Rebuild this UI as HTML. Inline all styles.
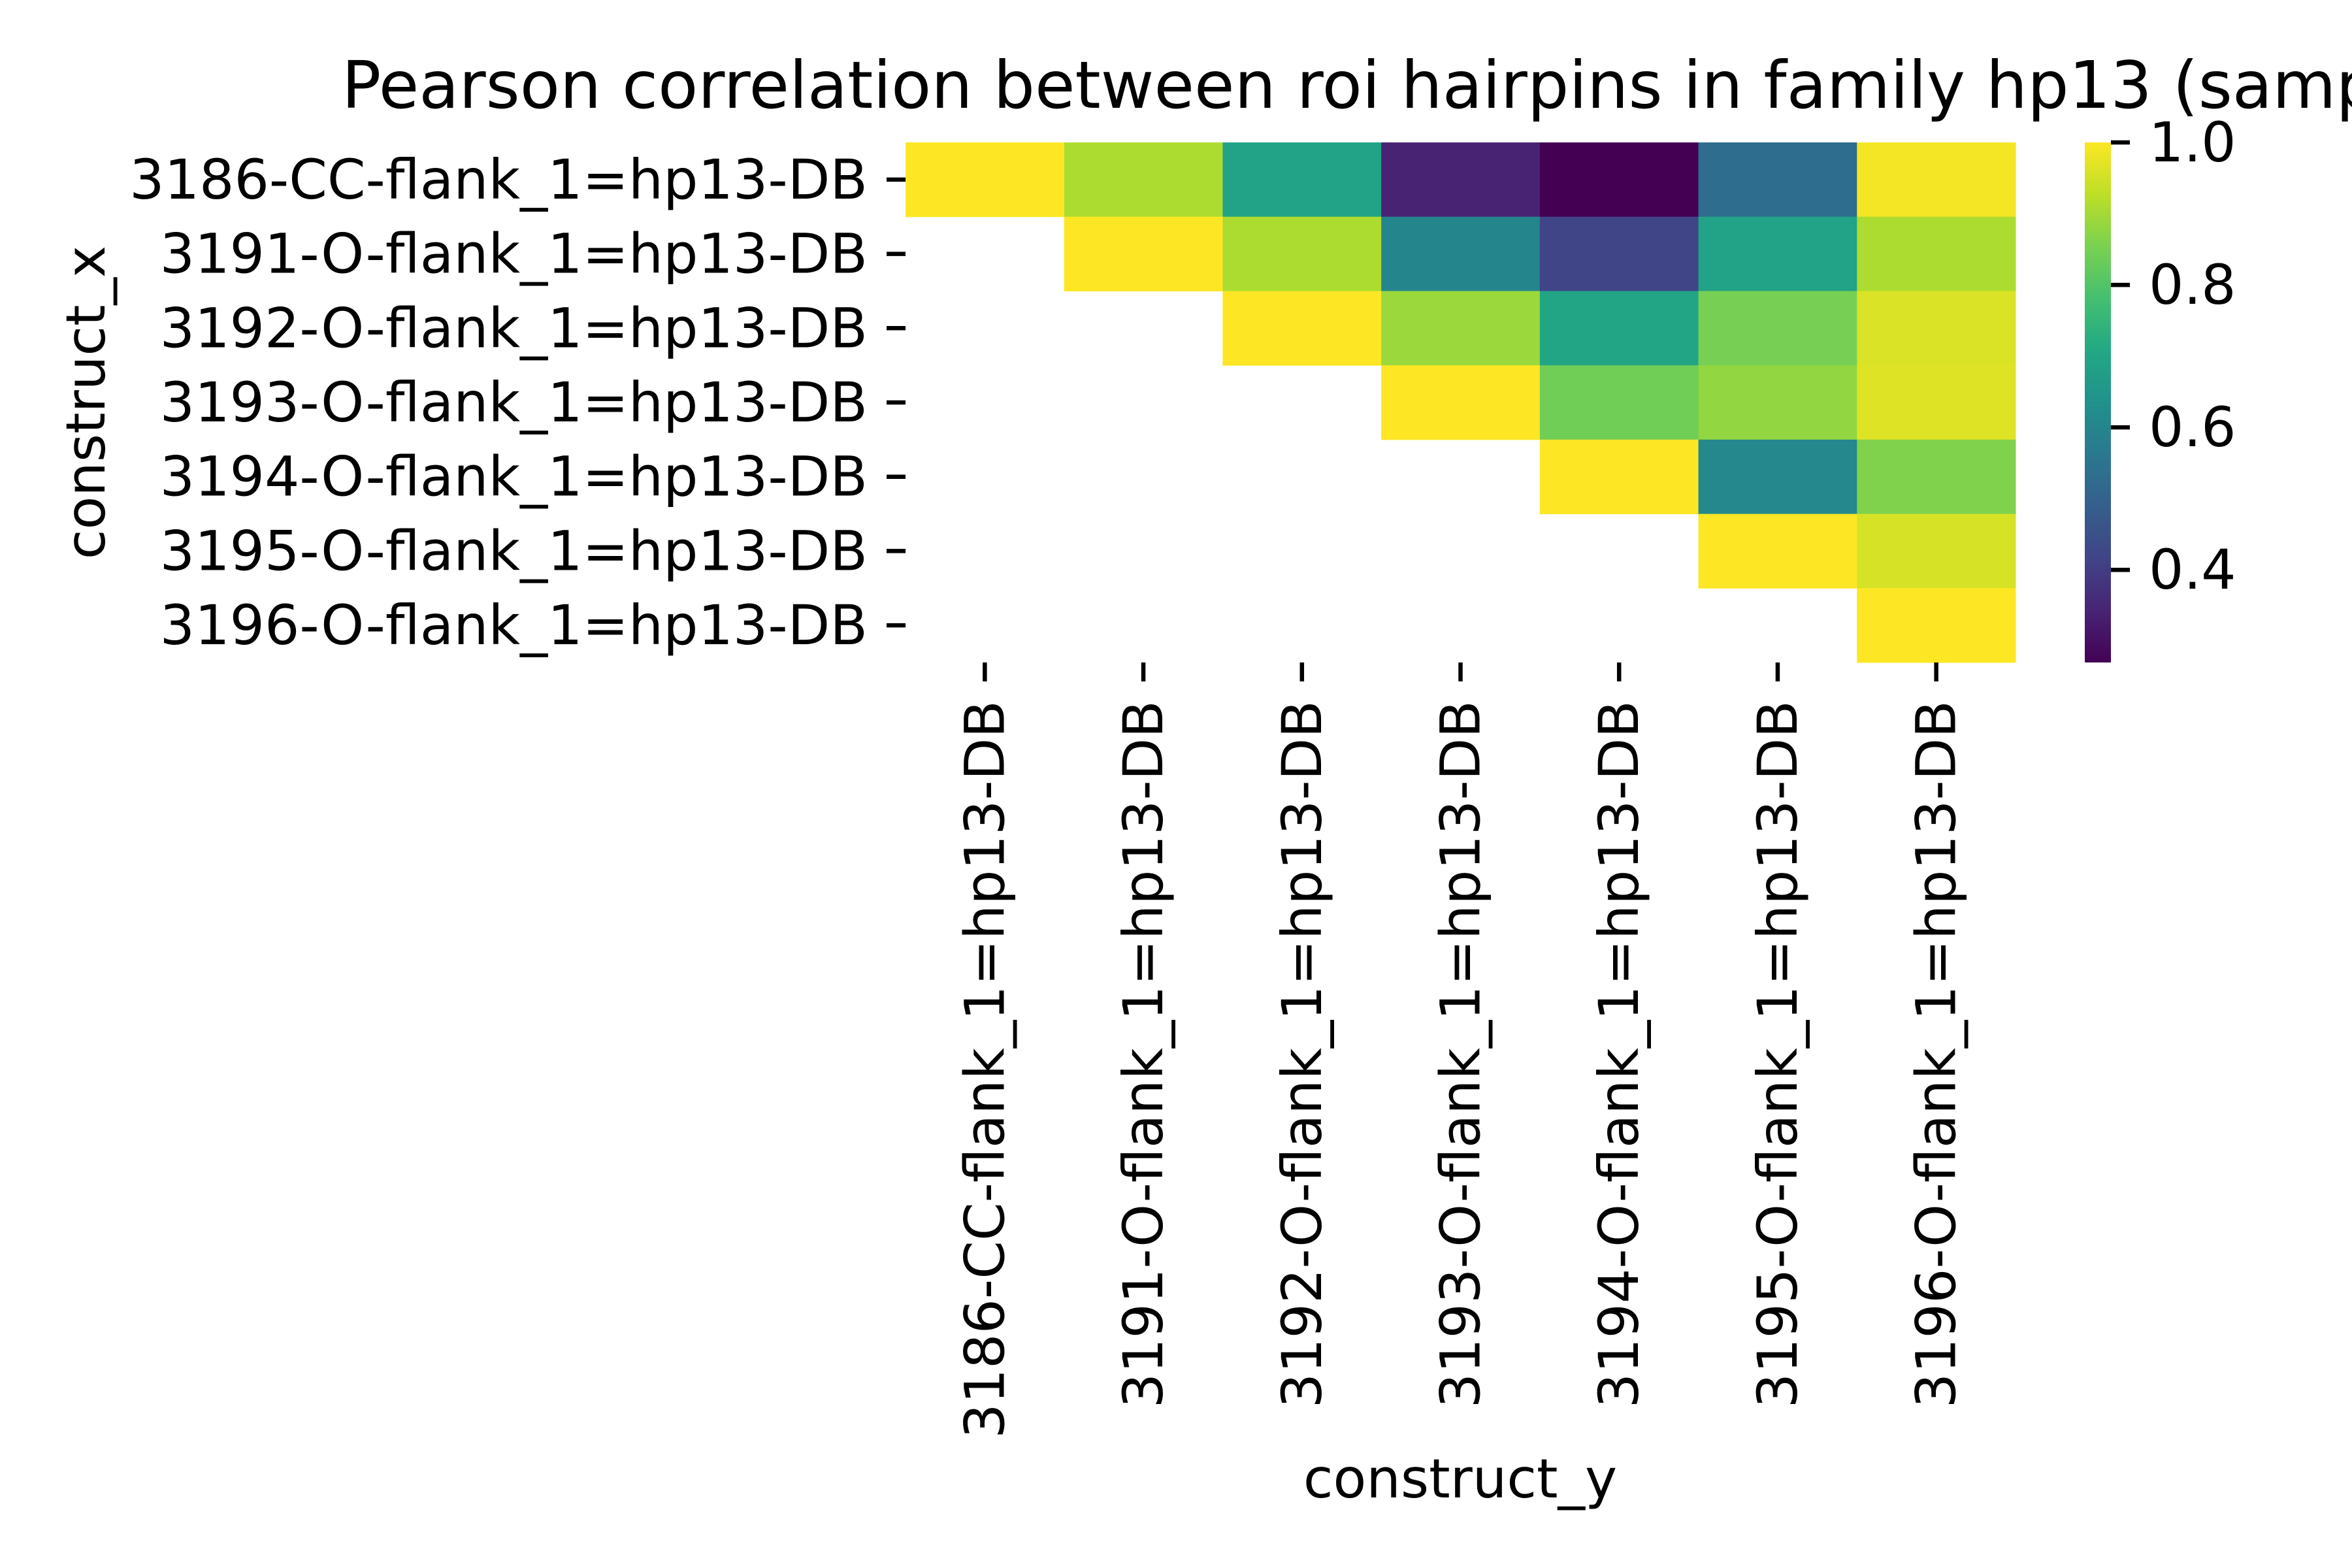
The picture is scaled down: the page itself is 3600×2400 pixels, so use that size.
<!DOCTYPE html>
<html><head><meta charset="utf-8"><style>
html,body{margin:0;padding:0;background:#fff;}
svg{display:block;font-family:"DejaVu Sans","Liberation Sans",sans-serif;}
</style></head><body>
<svg id="chart" width="3600" height="2400" viewBox="0 0 3600 2400" xmlns="http://www.w3.org/2000/svg">
<defs>
<linearGradient id="cbgrad" x1="0" y1="1" x2="0" y2="0">
<stop offset="0" stop-color="#440154"/><stop offset="0.1" stop-color="#482475"/><stop offset="0.2" stop-color="#414487"/><stop offset="0.3" stop-color="#355f8d"/><stop offset="0.4" stop-color="#2a788e"/><stop offset="0.5" stop-color="#21918c"/><stop offset="0.6" stop-color="#22a884"/><stop offset="0.7" stop-color="#44bf70"/><stop offset="0.8" stop-color="#7ad151"/><stop offset="0.9" stop-color="#bddf26"/><stop offset="1" stop-color="#fde725"/>
</linearGradient>
</defs>
<text x="523" y="165" font-size="100">Pearson correlation between roi hairpins in family hp13 (sample)</text>
<g id="cells"></g>
<g id="axes"></g>
<rect x="3191" y="218" width="40" height="796" fill="url(#cbgrad)"/>
<g id="cbticks"></g>
<text x="2235" y="2292" font-size="83" text-anchor="middle">construct_y</text>
<text x="0" y="0" font-size="83" text-anchor="middle" transform="translate(160,616) rotate(-90)">construct_x</text>
</svg>
<script>
const labels = ["3186-CC-flank_1=hp13-DB","3191-O-flank_1=hp13-DB","3192-O-flank_1=hp13-DB","3193-O-flank_1=hp13-DB","3194-O-flank_1=hp13-DB","3195-O-flank_1=hp13-DB","3196-O-flank_1=hp13-DB"];
const row0 = [1.00, 0.91, 0.69, 0.34, 0.27, 0.53, 0.99];
const row1 = [null, 1.00, 0.91, 0.60, 0.42, 0.69, 0.91];
const row2 = [null, null, 1.00, 0.89, 0.70, 0.85, 0.96];
const row3 = [null, null, null, 1.00, 0.84, 0.88, 0.965];
const row4 = [null, null, null, null, 1.00, 0.61, 0.86];
const row5 = [null, null, null, null, null, 1.00, 0.955];
const row6 = [null, null, null, null, null, null, 1.00];
const cbTicks = [0.4, 0.6, 0.8, 1.0];
const cbTickLabels = ["0.4", "0.6", "0.8", "1.0"];
const vmin = 0.27, vmax = 1.0;

const rows = [row0,row1,row2,row3,row4,row5,row6];
const NS = "http://www.w3.org/2000/svg";
const X0 = 1386, X1 = 3085, Y0 = 218, Y1 = 1014;
const FS = 84;
const cw = (X1 - X0) / labels.length, ch = (Y1 - Y0) / labels.length;
const xPos = i => X0 + i * cw;
const yPos = i => Y0 + i * ch;
const cbY = v => Y1 - (v - vmin) / (vmax - vmin) * (Y1 - Y0);
const vir = ["#440154","#482475","#414487","#355f8d","#2a788e","#21918c","#22a884","#44bf70","#7ad151","#bddf26","#fde725"];
function hex(h){return [1,3,5].map(k=>parseInt(h.substr(k,2),16));}
function color(v){
  let t = Math.max(0, Math.min(1, (v - vmin) / (vmax - vmin))) * (vir.length - 1);
  let i = Math.min(Math.floor(t), vir.length - 2), f = t - i;
  let a = hex(vir[i]), b = hex(vir[i+1]);
  return "rgb(" + a.map((c,k)=>Math.round(c + (b[k]-c)*f)).join(",") + ")";
}
function mk(tag, attrs){const e=document.createElementNS(NS,tag);for(const k in attrs)e.setAttribute(k,attrs[k]);return e;}
const cells = document.getElementById("cells");
rows.forEach((r, ri) => r.forEach((v, ci) => {
  if (v === null) return;
  const e = mk("rect", {x:xPos(ci), y:yPos(ri), width:cw+0.5, height:ch+0.5, fill:color(v)});
  
  
  cells.appendChild(e);
}));
const axes = document.getElementById("axes");
labels.forEach((lab, i) => {
  const yc = yPos(i) + ch / 2;
  const t1 = mk("line", {x1:X0-29, x2:X0, y1:yc, y2:yc, stroke:"#000", "stroke-width":6.5});
  
  
  axes.appendChild(t1);
  const l1 = mk("text", {x:X0-58, y:yc, "font-size":FS, "text-anchor":"end", "dominant-baseline":"central"});
  l1.textContent = lab;
  
  
  axes.appendChild(l1);
  const xc = xPos(i) + cw / 2;
  const t2 = mk("line", {x1:xc, x2:xc, y1:Y1, y2:Y1+29, stroke:"#000", "stroke-width":6.5});
  
  
  axes.appendChild(t2);
  const l2 = mk("text", {x:0, y:0, "font-size":FS, "text-anchor":"end", "dominant-baseline":"central", transform:"translate("+xc+","+(Y1+58)+") rotate(-90)"});
  l2.textContent = lab;
  
  
  axes.appendChild(l2);
});
const cbt = document.getElementById("cbticks");
cbTicks.forEach((v, i) => {
  const y = cbY(v);
  const t = mk("line", {x1:3231, x2:3260, y1:y, y2:y, stroke:"#000", "stroke-width":6.5});
  
  
  cbt.appendChild(t);
  const l = mk("text", {x:3289, y:y, "font-size":FS, "dominant-baseline":"central"});
  l.textContent = cbTickLabels[i];
  
  
  cbt.appendChild(l);
});
</script>
</body></html>
